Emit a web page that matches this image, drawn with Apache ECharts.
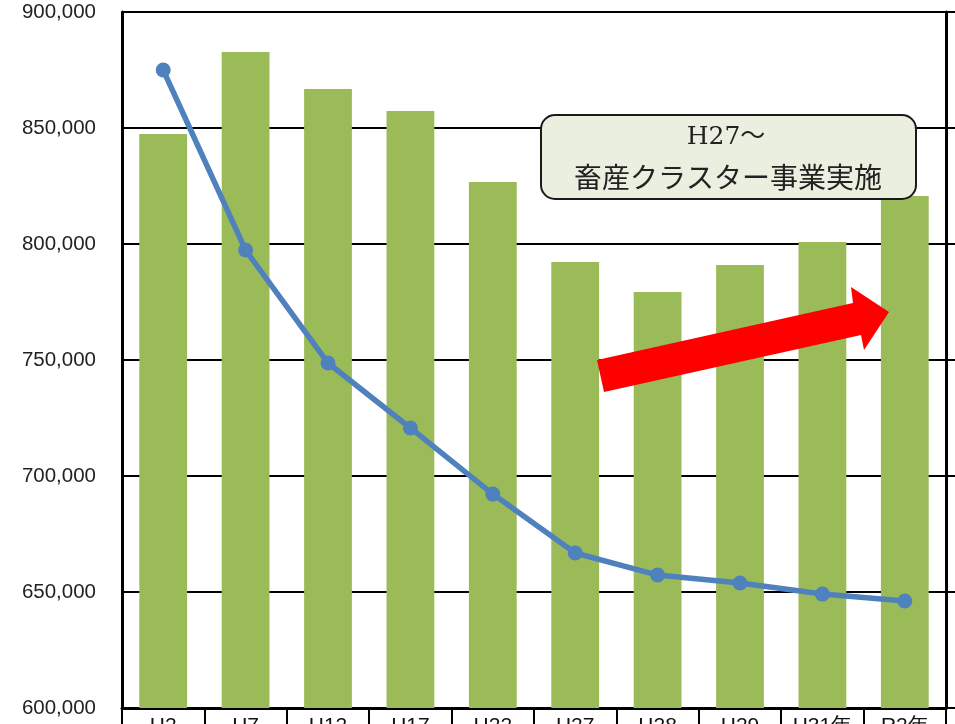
<!DOCTYPE html>
<html>
<head>
<meta charset="utf-8">
<script src="https://cdn.jsdelivr.net/npm/echarts@6/dist/echarts.min.js"></script>
<style>
html,body{margin:0;padding:0;background:#fff;}
#chart{width:955px;height:724px;}
</style>
</head>
<body>
<div id="chart"></div>
<script>
const categories = ['H2','H7','H12','H17','H22','H27','H28','H29','H31年','R2年'];
const barValues = [847400, 882800, 866800, 857300, 826700, 792200, 779300, 790900, 800900, 820700];
const lineValues = [875000, 797400, 748700, 720700, 692200, 666800, 657300, 653900, 649100, 646100];
const yMin = 600000, yMax = 900000, yInterval = 50000;
const noteLines = ['H27～', '畜産クラスター事業実施'];

const chart = echarts.init(document.getElementById('chart'));
chart.setOption({
  animation: false,
  backgroundColor: '#ffffff',
  grid: { left: 122, right: 9, top: 12, bottom: 16, containLabel: false, outerBoundsMode: 'none' },
  xAxis: {
    type: 'category',
    data: categories,
    axisLine: { lineStyle: { color: '#000', width: 3 } },
    axisTick: { show: true, length: 24, lineStyle: { color: '#000', width: 2 } },
    axisLabel: { color: '#111', fontSize: 21, fontFamily: 'Liberation Sans, Arial, sans-serif', margin: 8 }
  },
  yAxis: [
    {
      type: 'value', min: yMin, max: yMax, interval: yInterval,
      axisLine: { show: true, lineStyle: { color: '#000', width: 3 } },
      axisTick: { show: false },
      splitLine: { show: true, lineStyle: { color: '#000', width: 2 } },
      axisLabel: {
        color: '#222', fontSize: 20.5, margin: 26,
        fontFamily: 'Liberation Sans, Arial, sans-serif',
        formatter: v => v.toLocaleString('en-US')
      }
    },
    {
      type: 'value', min: yMin, max: yMax, interval: yInterval, position: 'right',
      axisLine: { show: true, lineStyle: { color: '#000', width: 3 } },
      axisTick: { show: true, inside: false, length: 12, lineStyle: { color: '#000', width: 2 } },
      splitLine: { show: false },
      axisLabel: { show: false }
    }
  ],
  series: [
    {
      type: 'bar', data: barValues, barWidth: '58%',
      itemStyle: { color: '#9BBB59' }, z: 2
    },
    {
      type: 'line', data: lineValues,
      lineStyle: { color: '#4F81BD', width: 5.5 },
      itemStyle: { color: '#4F81BD' },
      symbol: 'circle', symbolSize: 15, z: 5
    }
  ],
  graphic: [
    {
      type: 'rect', z: 10,
      shape: { x: 541, y: 115, width: 375, height: 84, r: 14 },
      style: { fill: '#EBEFDF', stroke: '#1a1a1a', lineWidth: 2 }
    },
    {
      type: 'text', z: 11,
      x: 726, y: 137,
      style: { text: noteLines[0], fill: '#222', font: '25px "DejaVu Serif", "Noto Sans CJK JP", serif', align: 'center', verticalAlign: 'middle' }
    },
    {
      type: 'text', z: 11,
      x: 728, y: 177,
      style: { text: noteLines[1], fill: '#222', font: '28px "Noto Sans CJK JP", sans-serif', align: 'center', verticalAlign: 'middle' }
    },
    {
      type: 'polygon', z: 10,
      shape: { points: [[597,360],[853,303],[851,287],[889,312],[864,350],[861,335],[604,392]] },
      style: { fill: '#FF0000' }
    }
  ]
});
</script>
</body>
</html>
